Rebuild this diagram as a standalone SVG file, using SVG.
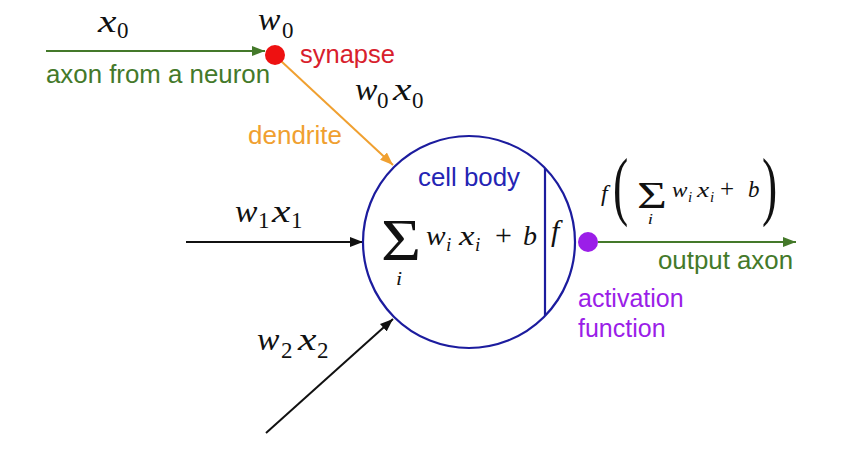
<svg xmlns="http://www.w3.org/2000/svg" width="841" height="467" viewBox="0 0 841 467">
<style>
.m{font-family:"Liberation Serif","Times New Roman",serif;font-style:italic;fill:#111}
.n{font-family:"Liberation Serif","Times New Roman",serif;font-style:normal;fill:#111}
.it{font-style:italic}
.lbl{font-family:"Liberation Sans",Arial,sans-serif;font-size:25px}
.green{fill:#44792a}
.ln{fill:none;stroke-width:2}
</style>
<defs>
<marker id="ag" markerUnits="userSpaceOnUse" markerWidth="13" markerHeight="10" refX="13" refY="5" orient="auto"><path d="M0,0 L13,5 L0,10 z" fill="#44792a"/></marker>
<marker id="ao" markerUnits="userSpaceOnUse" markerWidth="13" markerHeight="10" refX="13" refY="5" orient="auto"><path d="M0,0 L13,5 L0,10 z" fill="#f0a030"/></marker>
<marker id="ak" markerUnits="userSpaceOnUse" markerWidth="13" markerHeight="10" refX="13" refY="5" orient="auto"><path d="M0,0 L13,5 L0,10 z" fill="#111"/></marker>
</defs>
<rect width="841" height="467" fill="#fff"/>

<g id="connectors">
<line class="ln" x1="46" y1="51" x2="265" y2="51" stroke="#44792a" marker-end="url(#ag)"/>
<line class="ln" x1="281" y1="61" x2="393" y2="165" stroke="#f0a030" marker-end="url(#ao)"/>
<line class="ln" x1="186" y1="242" x2="363" y2="242" stroke="#111" marker-end="url(#ak)"/>
<line class="ln" x1="266" y1="433" x2="393" y2="319" stroke="#111" marker-end="url(#ak)"/>
<line class="ln" x1="598" y1="242" x2="796" y2="242" stroke="#44792a" marker-end="url(#ag)"/>
</g>

<g id="input-x0">
<text class="m" transform="translate(98,32) scale(1.3,1)" font-size="32">x</text>
<text class="n" x="117" y="38" font-size="23">0</text>
<text class="lbl green" x="46" y="83" textLength="224" lengthAdjust="spacingAndGlyphs">axon from a neuron</text>
</g>

<g id="synapse">
<circle cx="275" cy="55" r="10" fill="#ee1111"/>
<text class="m" transform="translate(258,30) scale(1.05,1)" font-size="32">w</text>
<text class="n" x="282" y="38" font-size="23">0</text>
<text class="lbl" x="300" y="63" fill="#d8202c" textLength="95" lengthAdjust="spacingAndGlyphs">synapse</text>
</g>

<g id="dendrite">
<text class="m" transform="translate(355,100) scale(1.05,1)" font-size="32">w</text>
<text class="n" x="377" y="108" font-size="23">0</text>
<text class="m" transform="translate(393,100) scale(1.3,1)" font-size="32">x</text>
<text class="n" x="412" y="108" font-size="23">0</text>
<text class="lbl" x="248" y="144" fill="#f0a030" textLength="94" lengthAdjust="spacingAndGlyphs">dendrite</text>
</g>

<g id="input-1">
<text class="m" transform="translate(235,222) scale(1.05,1)" font-size="32">w</text>
<text class="n" x="258" y="228" font-size="23">1</text>
<text class="m" transform="translate(272,222) scale(1.3,1)" font-size="32">x</text>
<text class="n" x="291" y="228" font-size="23">1</text>
</g>

<g id="input-2">
<text class="m" transform="translate(257,350) scale(1.05,1)" font-size="32">w</text>
<text class="n" x="281" y="358" font-size="23">2</text>
<text class="m" transform="translate(298,350) scale(1.3,1)" font-size="32">x</text>
<text class="n" x="317" y="358" font-size="23">2</text>
</g>

<g id="cell-body">
<circle cx="469" cy="242" r="106" fill="none" stroke="#1c1c9e" stroke-width="2.2"/>
<line x1="545" y1="168" x2="545" y2="316" stroke="#1c1c9e" stroke-width="2.2"/>
<text class="lbl" x="418" y="186" fill="#2424b4" textLength="102" lengthAdjust="spacingAndGlyphs">cell body</text>
<text class="n" transform="translate(381,260) scale(1.15,1)" font-size="60">Σ<tspan class="it" x="13" y="25" font-size="19">i</tspan></text>
<text class="m" transform="translate(426,245) scale(1.05,1)" font-size="28">w</text>
<text class="m" x="446" y="251" font-size="19">i</text>
<text class="m" transform="translate(459,245) scale(1.25,1)" font-size="28">x</text>
<text class="m" x="475" y="251" font-size="19">i</text>
<text class="n" x="495" y="245" font-size="30">+</text>
<text class="m" x="523" y="245" font-size="28">b</text>
<text class="m" x="551" y="241" font-size="30">f</text>
</g>

<g id="activation">
<circle cx="588" cy="242" r="10" fill="#9b1ee8"/>
<text class="lbl" x="578" y="307" fill="#9b1ee8">activation</text>
<text class="lbl" x="578" y="337" fill="#9b1ee8">function</text>
</g>

<g id="output">
<text class="m" x="601" y="201" font-size="24">f</text>
<text class="n" transform="translate(613,211) scale(0.6,1)" font-size="76">(</text>
<text class="n" transform="translate(637,208) scale(1.35,1)" font-size="38">Σ<tspan class="it" x="8" y="16" font-size="14">i</tspan></text>
<text class="m" transform="translate(672,197) scale(1.05,1)" font-size="22">w</text>
<text class="m" x="688" y="202" font-size="15">i</text>
<text class="m" transform="translate(697,197) scale(1.25,1)" font-size="22">x</text>
<text class="m" x="710" y="202" font-size="15">i</text>
<text class="n" x="720" y="197" font-size="25">+</text>
<text class="m" x="748" y="197" font-size="23">b</text>
<text class="n" transform="translate(762,211) scale(0.6,1)" font-size="76">)</text>
<text class="lbl green" x="658" y="269" textLength="135" lengthAdjust="spacingAndGlyphs">output axon</text>
</g>
</svg>
